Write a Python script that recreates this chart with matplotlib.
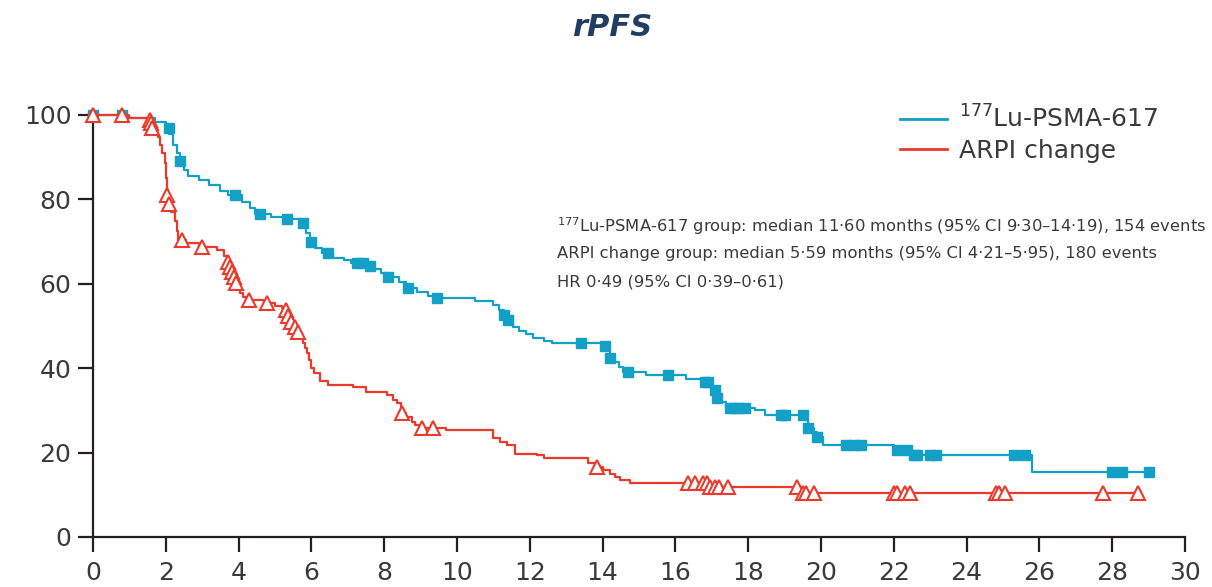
import numpy as np
import matplotlib.pyplot as plt

# step curves: time (months) where the estimate changes, and the value after it (%)
lu_time = [0, 0.9, 1.7, 2.0, 2.1, 2.2, 2.3, 2.38, 2.5, 2.6, 2.9, 3.2, 3.5, 3.7,
           4.1, 4.3, 4.45, 4.9, 5.3, 5.75, 5.85, 5.95, 6.1, 6.3, 6.6, 6.9, 7.1,
           7.5, 7.7, 7.9, 8.1, 8.4, 8.6, 8.9, 9.2, 9.4, 10.5, 11.0, 11.15, 11.3,
           11.4, 11.55, 11.7, 11.9, 12.1, 12.4, 12.6, 14.0, 14.1, 14.2, 14.3,
           14.45, 14.55, 15.2, 16.3, 16.75, 17.0, 17.1, 17.25, 17.4, 18.2, 18.45,
           19.55, 19.65, 19.8, 19.9, 20.05, 22.0, 22.5, 25.8]
lu_surv = [100, 99.3, 98.3, 97, 95.5, 93, 91, 89, 87, 85.5, 84.5, 83.5, 82, 81,
           79.5, 78, 76.5, 75.8, 75.4, 74.4, 72, 70, 68.5, 67.2, 66.2, 65.6, 64.9,
           64.2, 63.5, 62.5, 61.6, 60.5, 59, 58, 57.2, 56.6, 56.0, 55.0, 53.8, 52.6,
           51.4, 49.8, 48.8, 48.0, 47.2, 46.5, 46.0, 45.2, 44.5, 42.5, 41.5,
           40.2, 39.0, 38.4, 37.4, 36.8, 34.8, 33.0, 32.0, 30.5, 30.0, 29.0,
           27.7, 25.8, 24.8, 23.7, 21.8, 20.6, 19.4, 15.4]
lu_end = 29.0
lu_censor = [0.0, 0.8, 2.09, 2.39, 3.9, 4.59, 5.33, 5.77, 6.0, 6.46, 7.25, 7.42,
             7.6, 8.1, 8.65, 9.45, 11.3, 11.4, 13.4, 14.07, 14.2, 14.7, 15.8,
             16.8, 16.9, 17.08, 17.15, 17.5, 17.6, 17.75, 17.9, 18.9, 19.0, 19.5,
             19.65, 19.9, 20.7, 20.9, 21.1, 22.1, 22.35, 22.55, 22.65, 23.0, 23.15,
             25.3, 25.6, 28.0, 28.27, 29.0]

arpi_time = [0, 1.0, 1.55, 1.58, 1.61, 1.64, 1.78, 1.85, 1.9, 1.98, 2.0, 2.03,
             2.08, 2.15, 2.25, 2.3, 2.34, 2.55, 2.9, 3.4, 3.6, 3.68, 3.72, 3.78,
             3.84, 3.9, 3.96, 4.05, 4.12, 4.2, 4.7, 5.0, 5.2, 5.3, 5.36, 5.45,
             5.53, 5.62, 5.72, 5.77, 5.83, 5.88, 5.93, 6.0, 6.08, 6.24, 6.46, 7.14,
             7.5, 8.07, 8.25, 8.35, 8.45, 8.6, 8.75, 8.85, 9.0, 9.7, 11.0, 11.18,
             11.37, 11.6, 12.2, 12.4, 13.6, 13.8, 14.0, 14.2, 14.35, 14.48, 14.75,
             16.93, 19.45]
arpi_surv = [100, 99.4, 98.8, 98, 97, 96, 94.8, 93, 91, 88.6, 85, 81,
             79, 77, 75, 72.5, 70.4, 69.7, 68.7, 68.0, 66.5, 65.2, 64, 62.8,
             61.6, 60.2, 59, 57.8, 56.9, 56.2, 55.4, 54.8, 54.3, 53.8, 52.4, 51,
             49.8, 48.6, 47.2, 46, 44.8, 43.6, 42, 40, 38.8, 37, 36, 35.5,
             34.4, 33.6, 32.5, 31.7, 29.5, 28.4, 27.2, 26.5, 25.8, 25.4, 23.5, 22.5,
             21.8, 19.7, 19.4, 18.7, 17.6, 16.6, 15.8, 14.9, 14.2, 13.5, 12.8,
             11.8, 10.4]
arpi_end = 28.7
arpi_censor = [0.0, 0.8, 1.56, 1.59, 1.62, 2.03, 2.08, 2.45, 3.0, 3.7, 3.76, 3.82,
               3.88, 3.94, 4.29, 4.78, 5.3, 5.36, 5.45, 5.55, 5.63, 8.5, 9.04,
               9.34, 13.85, 16.35, 16.54, 16.76, 16.87, 16.95, 17.1, 17.2, 17.45,
               19.35, 19.5, 19.6, 19.8, 22.0, 22.1, 22.3, 22.45, 24.8, 24.9, 25.05,
               27.75, 28.7]

lu_label = r'$^{177}$Lu-PSMA-617'
arpi_label = 'ARPI change'
notes = [r'$^{177}$Lu-PSMA-617 group: median 11·60 months (95% CI 9·30–14·19), 154 events',
         'ARPI change group: median 5·59 months (95% CI 4·21–5·95), 180 events',
         'HR 0·49 (95% CI 0·39–0·61)']

BLUE = '#12a0c6'
RED = '#ea3a2c'
INK = '#231f20'
TXT = '#3a3a3a'


def level_at(times, surv, t):
    idx = np.searchsorted(times, t, side='right') - 1
    return np.asarray(surv)[idx]


fig = plt.figure(figsize=(12.12, 5.87), dpi=100)
ax = fig.add_axes([93 / 1212, 50 / 587, 1092 / 1212, 422 / 587])

# Lu-PSMA arm
xs = np.append(lu_time, lu_end)
ys = np.append(lu_surv, lu_surv[-1])
ax.step(xs, ys, where='post', color=BLUE, lw=1.6, clip_on=False, zorder=3)
ax.plot(lu_censor, level_at(lu_time, lu_surv, lu_censor), 's', color=BLUE,
        ms=7.5, mec=BLUE, clip_on=False, zorder=4)

# ARPI change arm
xs = np.append(arpi_time, arpi_end)
ys = np.append(arpi_surv, arpi_surv[-1])
ax.step(xs, ys, where='post', color=RED, lw=1.6, clip_on=False, zorder=5)
ax.plot(arpi_censor, level_at(arpi_time, arpi_surv, arpi_censor), '^', color=RED,
        ms=9.5, mfc='white', mec=RED, mew=1.5, clip_on=False, zorder=6)

ax.set_xlim(0, 30)
ax.set_ylim(0, 100)
ax.set_xticks(np.arange(0, 31, 2))
ax.set_yticks(np.arange(0, 101, 20))
for side in ('top', 'right'):
    ax.spines[side].set_visible(False)
for side in ('left', 'bottom'):
    ax.spines[side].set_color(INK)
    ax.spines[side].set_linewidth(1.6)
ax.tick_params(length=10.5, width=1.6, color=INK, labelsize=18, labelcolor=TXT)
ax.tick_params(axis='x', pad=7)
ax.tick_params(axis='y', pad=5)

# legend handles
h1, = ax.plot([], [], color=BLUE, lw=2, label=lu_label)
h2, = ax.plot([], [], color=RED, lw=2, label=arpi_label)
fig.legend(handles=[h1, h2], loc='upper right', bbox_to_anchor=(1170 / 1212, 1 - 93 / 587),
           frameon=False, fontsize=18, handlelength=1.9, handletextpad=0.45,
           labelspacing=0.25, borderpad=0, labelcolor=TXT)

for i, line in enumerate(notes):
    ax.text(0.425, 0.737 - i * 0.0663, line, transform=ax.transAxes, fontsize=11.8,
            color=TXT, va='center', ha='left')

fig.text(0.505, 1 - 27 / 587, 'rPFS', ha='center', va='center', fontsize=22,
         fontweight='bold', fontstyle='italic', color='#213d63')

fig.savefig('out.png', dpi=100)
